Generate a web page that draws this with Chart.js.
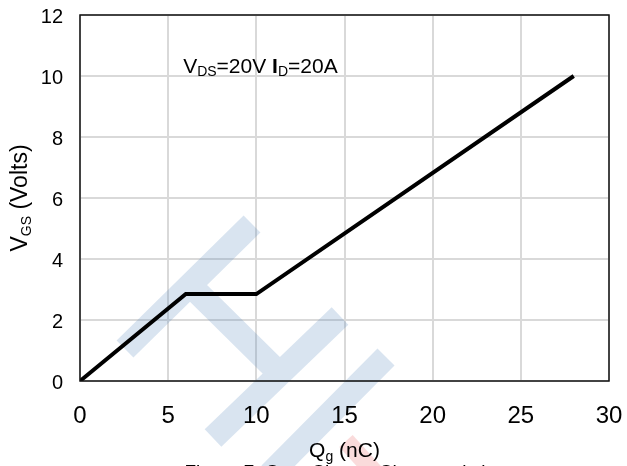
<!DOCTYPE html>
<html>
<head>
<meta charset="utf-8">
<script src="https://cdn.jsdelivr.net/npm/chart.js@4.4.1/dist/chart.umd.min.js"></script>
<style>
  html, body { margin: 0; padding: 0; background: #fff; overflow: hidden; }
  #wrap { width: 627px; height: 466px; position: relative; }
</style>
</head>
<body>
<div id="wrap"><canvas id="gateChart"></canvas></div>
<script>
// Gate charge curve: Qg (nC) vs VGS (V)
const qgValues = [0, 6, 10, 28];
const vgsValues = [0, 2.85, 2.85, 10];
const xTickValues = [0, 5, 10, 15, 20, 25, 30];
const yTickValues = [0, 2, 4, 6, 8, 10, 12];
const noteAt = [5.85, 10.1]; // where the test condition note sits (data units)

const FONT = '"Liberation Sans", Arial, sans-serif';

// draw text made of runs, some of them subscripts
function richWidth(ctx, parts) {
  let w = 0;
  parts.forEach(function(p) {
    ctx.font = (p.bold ? 'bold ' : '') + p.size + 'px ' + FONT;
    w += ctx.measureText(p.t).width;
  });
  return w;
}
function drawRich(ctx, parts, x, y, align) {
  const w = richWidth(ctx, parts);
  let cx = align === 'center' ? x - w / 2 : x;
  ctx.textBaseline = 'alphabetic';
  ctx.textAlign = 'left';
  parts.forEach(function(p) {
    ctx.font = (p.bold ? 'bold ' : '') + p.size + 'px ' + FONT;
    ctx.fillText(p.t, cx, y + (p.dy || 0));
    cx += ctx.measureText(p.t).width;
  });
}

// faint logo watermark behind the curve
const watermarkPlugin = {
  id: 'watermark',
  beforeDatasetsDraw(chart) {
    const ctx = chart.ctx;
    const bands = [
      [125, 349, 252, 224, 24],
      [190, 285, 274, 368, 24],
      [213, 438, 340, 316, 24],
      [270, 474, 386, 357, 24]
    ];
    function addBand(b) {
      const dx = b[2] - b[0], dy = b[3] - b[1];
      const len = Math.hypot(dx, dy);
      const nx = -dy / len * b[4] / 2, ny = dx / len * b[4] / 2;
      ctx.moveTo(b[0] + nx, b[1] + ny);
      ctx.lineTo(b[2] + nx, b[3] + ny);
      ctx.lineTo(b[2] - nx, b[3] - ny);
      ctx.lineTo(b[0] - nx, b[1] - ny);
      ctx.closePath();
    }
    ctx.save();
    ctx.beginPath();
    bands.forEach(addBand);
    ctx.fillStyle = 'rgba(80,130,185,0.22)';
    ctx.fill('nonzero');
    ctx.beginPath();
    addBand([346, 441, 376, 474, 18]);
    ctx.fillStyle = 'rgba(235,110,110,0.25)';
    ctx.fill();
    ctx.restore();
  }
};

// frame, tick labels, axis titles and notes
const textPlugin = {
  id: 'texts',
  afterDatasetsDraw(chart) {
    const ctx = chart.ctx;
    const a = chart.chartArea;
    ctx.save();
    ctx.strokeStyle = '#111';
    ctx.lineWidth = 1.5;
    ctx.strokeRect(a.left, a.top, a.right - a.left, a.bottom - a.top);
    ctx.restore();
  },
  afterDraw(chart) {
    const ctx = chart.ctx;
    const a = chart.chartArea;
    const xs = chart.scales.x, ys = chart.scales.y;
    ctx.save();
    ctx.fillStyle = '#000';

    // x tick labels
    ctx.font = '24px ' + FONT;
    ctx.textAlign = 'center';
    ctx.textBaseline = 'alphabetic';
    xs.ticks.forEach(function(t) {
      ctx.fillText(String(t.value), xs.getPixelForValue(t.value), a.bottom + 42);
    });
    // y tick labels
    ctx.font = '20px ' + FONT;
    ctx.textAlign = 'right';
    ys.ticks.forEach(function(t) {
      ctx.fillText(String(t.value), a.left - 17, ys.getPixelForValue(t.value) + 8);
    });

    // x title
    drawRich(ctx, [
      { t: 'Q', size: 21 },
      { t: 'g', size: 14, dy: 4 },
      { t: ' (nC)', size: 21 }
    ], (a.left + a.right) / 2, a.bottom + 76, 'center');

    // y title
    ctx.save();
    ctx.translate(27, (a.top + a.bottom) / 2);
    ctx.rotate(-Math.PI / 2);
    drawRich(ctx, [
      { t: 'V', size: 23 },
      { t: 'GS', size: 14, dy: 4 },
      { t: ' (Volts)', size: 23 }
    ], 0, 0, 'center');
    ctx.restore();

    // test condition note
    drawRich(ctx, [
      { t: 'V', size: 21 },
      { t: 'DS', size: 14, dy: 3 },
      { t: '=20V ', size: 21 },
      { t: 'I', size: 21, bold: true },
      { t: 'D', size: 14, dy: 3 },
      { t: '=20A', size: 21 }
    ], xs.getPixelForValue(noteAt[0]), ys.getPixelForValue(noteAt[1]), 'left');

    // figure caption, cut by the bottom edge
    ctx.font = '19px ' + FONT;
    ctx.textAlign = 'center';
    ctx.fillText('Figure 7: Gate Charge Characteristics', (a.left + a.right) / 2, a.bottom + 97);
    ctx.restore();
  }
};

const points = qgValues.map(function(q, i) { return { x: q, y: vgsValues[i] }; });

new Chart(document.getElementById('gateChart'), {
  type: 'scatter',
  data: {
    datasets: [{
      data: points,
      showLine: true,
      borderColor: '#000',
      borderWidth: 4,
      borderJoinStyle: 'miter',
      pointRadius: 0,
      fill: false
    }]
  },
  options: {
    responsive: true,
    maintainAspectRatio: false,
    animation: false,
    layout: { padding: { top: 15, right: 18, bottom: 0, left: 0 } },
    plugins: { legend: { display: false }, tooltip: { enabled: false } },
    scales: {
      x: {
        type: 'linear',
        min: xTickValues[0],
        max: xTickValues[xTickValues.length - 1],
        afterBuildTicks: function(scale) { scale.ticks = xTickValues.map(function(v) { return { value: v }; }); },
        afterFit: function(scale) { scale.height = 85; },
        ticks: { display: false },
        grid: { color: '#d9d9d9', lineWidth: 2, drawTicks: false },
        border: { display: false }
      },
      y: {
        type: 'linear',
        min: yTickValues[0],
        max: yTickValues[yTickValues.length - 1],
        afterBuildTicks: function(scale) { scale.ticks = yTickValues.map(function(v) { return { value: v }; }); },
        afterFit: function(scale) { scale.width = 80; },
        ticks: { display: false },
        grid: { color: '#d9d9d9', lineWidth: 2, drawTicks: false },
        border: { display: false }
      }
    }
  },
  plugins: [watermarkPlugin, textPlugin]
});
</script>
</body>
</html>
